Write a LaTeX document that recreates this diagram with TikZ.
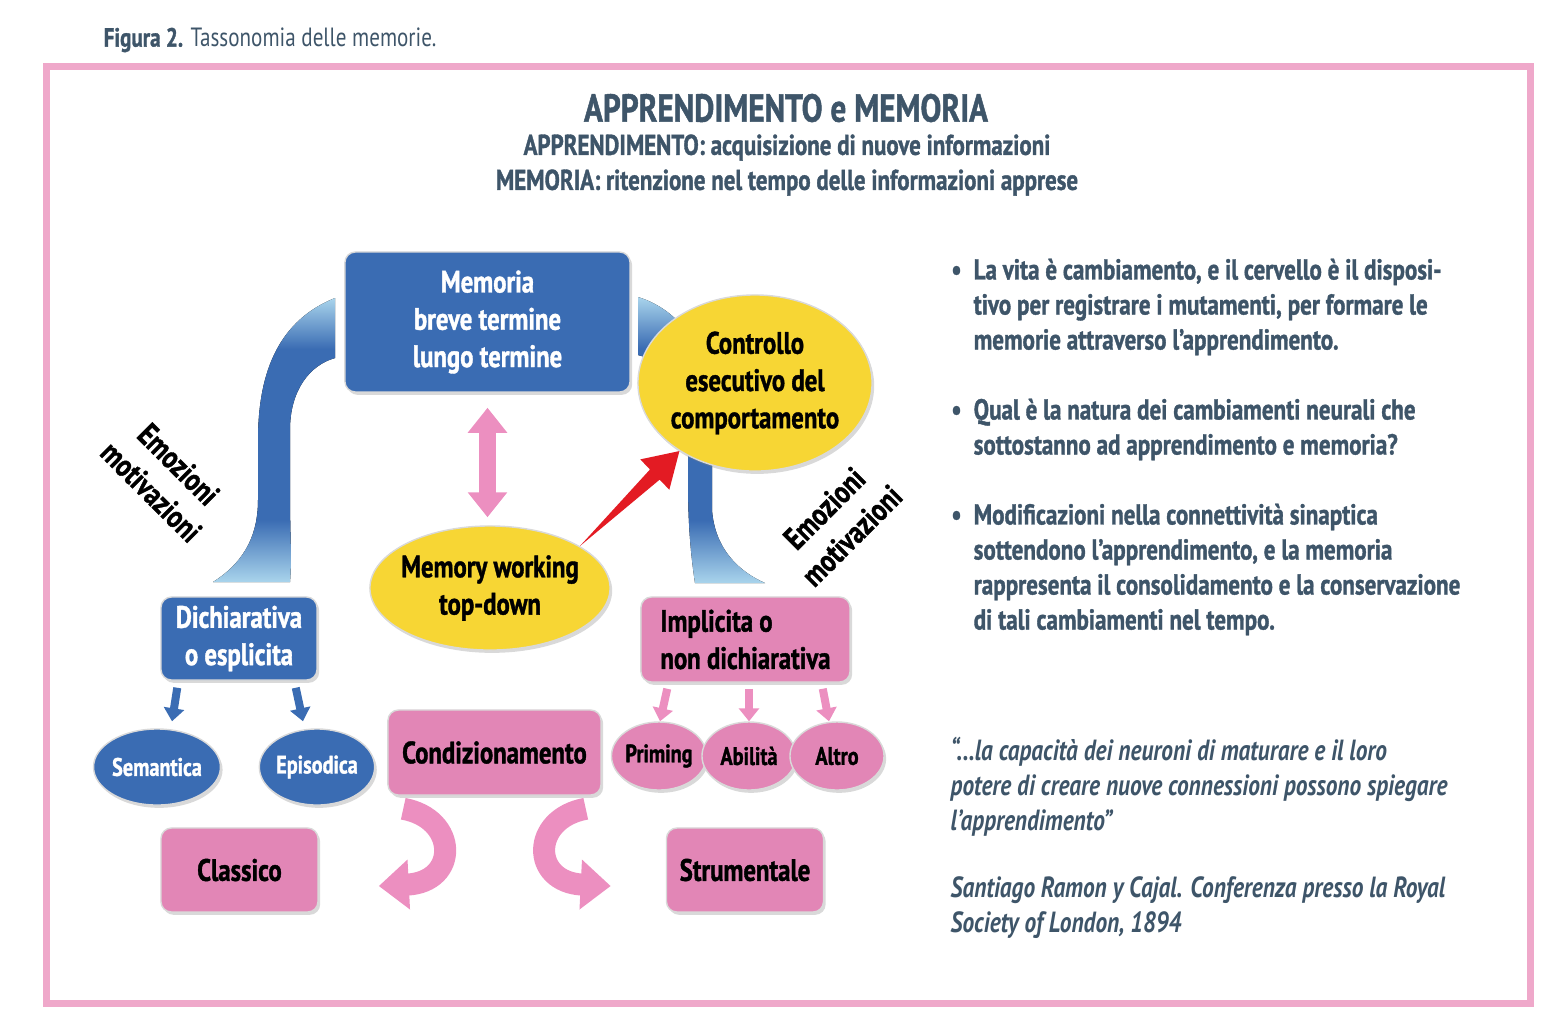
\documentclass[tikz,border=0pt]{standalone}
\usepackage{fontspec}
\setmainfont{PT Sans}[FakeStretch=0.8, BoldFeatures={FakeBold=1.2}]
\usetikzlibrary{shapes.geometric,arrows.meta,shadows,calc}

\definecolor{slate}{RGB}{62,85,105}
\definecolor{framepink}{RGB}{239,168,202}
\definecolor{memblue}{RGB}{58,108,179}
\definecolor{lightblue}{RGB}{169,212,236}
\definecolor{mempink}{RGB}{226,134,182}
\definecolor{arrowpink}{RGB}{236,143,192}
\definecolor{memyellow}{RGB}{247,214,52}
\definecolor{memred}{RGB}{227,27,35}

\pgfdeclareverticalshading{bandshade}{100bp}{color(0bp)=(lightblue); color(25bp)=(lightblue);
  color(36bp)=(memblue); color(66bp)=(memblue); color(75bp)=(lightblue); color(100bp)=(lightblue)}

\tikzset{
  boxblue/.style={rectangle, rounded corners=3pt, draw=white!70!gray, line width=0.4pt,
    fill=memblue, text=white, align=center, inner sep=0pt,
    font=\bfseries\fontsize{8.8pt}{10.6pt}\selectfont,
    drop shadow={opacity=0.3, shadow xshift=0.6pt, shadow yshift=-0.8pt}},
  boxpink/.style={boxblue, fill=mempink, text=black},
  ovalblue/.style={ellipse, draw=white!70!gray, line width=0.4pt, fill=memblue, text=white,
    inner sep=0pt, font=\bfseries\fontsize{7.2pt}{9pt}\selectfont,
    drop shadow={opacity=0.3, shadow xshift=0.6pt, shadow yshift=-0.8pt}},
  ovalpink/.style={ovalblue, fill=mempink, text=black},
  ovalyellow/.style={ellipse, draw=white!70!gray, line width=0.4pt, fill=memyellow, text=black,
    align=center, inner sep=-4pt, font=\bfseries\fontsize{8.8pt}{10.6pt}\selectfont,
    drop shadow={opacity=0.3, shadow xshift=0.6pt, shadow yshift=-0.8pt}},
  band/.style={shading=bandshade},
  emolabel/.style={align=center, inner sep=0pt, font=\bfseries\fontsize{9pt}{11pt}\selectfont},
  para/.style={anchor=north west, align=left, inner sep=0pt, text=slate,
    font=\bfseries\fontsize{8.2pt}{0.35cm}\selectfont},
  quote/.style={para, font=\bfseries\itshape\fontsize{8.3pt}{0.35cm}\selectfont},
  dblpink/.style={draw=arrowpink, line width=0.17cm,
    {Triangle[width=0.38cm,length=0.25cm]}-{Triangle[width=0.38cm,length=0.25cm]}},
  smallblue/.style={draw=memblue, line width=0.08cm, -{Triangle[width=0.2cm,length=0.13cm]}},
  smallpink/.style={draw=arrowpink, line width=0.08cm, -{Triangle[width=0.2cm,length=0.13cm]}},
  hookpink/.style={draw=arrowpink, line width=0.22cm, -{Triangle[width=0.48cm,length=0.3cm]}}
}

\begin{document}
\begin{tikzpicture}[x=0.01cm, y=-0.01cm]
\useasboundingbox (0,0) rectangle (1563,1032);
\draw[draw=framepink, line width=0.07cm] (46.5,66.5) rectangle (1530,1003);
\node[anchor=west, inner sep=0pt, text=slate, font=\fontsize{7.5pt}{9pt}\selectfont] (fig) at (103,40)
  {\textbf{Figura 2.} Tassonomia delle memorie.};

\node[text=slate, font=\bfseries\fontsize{11.1pt}{13pt}\selectfont] (title) at (786,108) {APPRENDIMENTO e MEMORIA};
\node[text=slate, align=center, font=\bfseries\fontsize{8.15pt}{0.35cm}\selectfont] (sub) at (787,165)
  {APPRENDIMENTO: acquisizione di nuove informazioni\\MEMORIA: ritenzione nel tempo delle informazioni apprese};

% bande blu
\fill[band] (335,298) .. controls (280,320) and (258,370) .. (258,440) -- (258,500)
  .. controls (258,540) and (240,565) .. (213,582) -- (290,582)
  .. controls (292,560) and (290,530) .. (290,500) -- (290,430)
  .. controls (290,390) and (310,365) .. (335,358) -- cycle;
\fill[band] (638,297) .. controls (680,310) and (712,350) .. (712,420) -- (712,510)
  .. controls (715,550) and (740,572) .. (765,583) -- (695,583)
  .. controls (690,550) and (688,520) .. (688,480) -- (688,420)
  .. controls (688,385) and (665,362) .. (638,355) -- cycle;

\node[boxblue, minimum width=2.85cm, minimum height=1.40cm] (mem) at (487.5,322) {Memoria\\breve termine\\lungo termine};
\node[ovalyellow, minimum width=2.34cm, minimum height=1.76cm] (ctrl) at (755,383) {Controllo\\esecutivo del\\comportamento};
\node[ovalyellow, minimum width=2.40cm, minimum height=1.24cm] (mw) at (490,588) {Memory working\\top-down};

\node[boxblue, minimum width=1.56cm, minimum height=0.83cm] (dich) at (239,638.5) {Dichiarativa\\o esplicita};
\node[ovalblue, minimum width=1.10cm, minimum height=0.76cm] (sem) at (157,767) {Semantica};
\node[ovalblue, minimum width=1.10cm, minimum height=0.76cm] (epi) at (317,767) {Episodica};

\node[boxpink, minimum width=2.13cm, minimum height=0.85cm] (cond) at (494.5,752.5) {Condizionamento};
\node[boxpink, align=left, minimum width=2.09cm, minimum height=0.85cm] (impl) at (745.5,639.5) {Implicita o\\non dichiarativa};
\node[ovalpink, minimum width=0.94cm, minimum height=0.68cm] (prim) at (659,756) {Priming};
\node[ovalpink, minimum width=0.94cm, minimum height=0.68cm] (abil) at (749,756) {Abilità};
\node[ovalpink, minimum width=0.94cm, minimum height=0.68cm] (altro) at (837,756) {Altro};
\node[boxpink, minimum width=1.57cm, minimum height=0.84cm] (class) at (239.5,870) {Classico};
\node[boxpink, minimum width=1.57cm, minimum height=0.84cm] (strum) at (745,870) {Strumentale};

\node[emolabel, rotate=-45] (emo1) at (165,478) {Emozioni\\motivazioni};
\node[emolabel, rotate=45] (emo2) at (838,522) {Emozioni\\motivazioni};

\draw[dblpink, shorten <=0.15cm, shorten >=0.08cm] (mem.south) -- (mem.south |- mw.north);
% freccia rossa rastremata
\coordinate (hb) at ($(ctrl.222)!0.34cm!(mw.25)$);
\fill[memred] (mw.25) -- ($(hb)!0.07cm!90:(ctrl.222)$) -- ($(hb)!0.21cm!90:(ctrl.222)$) -- (ctrl.222)
  -- ($(hb)!0.21cm!-90:(ctrl.222)$) -- ($(hb)!0.07cm!-90:(ctrl.222)$) -- cycle;
\draw[smallblue] ([xshift=0.17cm,yshift=-0.07cm]dich.south west) -- ([xshift=0.15cm,yshift=0.07cm]sem.north);
\draw[smallblue] ([xshift=-0.22cm,yshift=-0.07cm]dich.south east) -- ([xshift=-0.14cm,yshift=0.07cm]epi.north);
\draw[smallpink] ([xshift=0.27cm,yshift=-0.06cm]impl.south west) -- ([xshift=0.01cm]prim.north);
\draw[smallpink] ([yshift=-0.06cm]impl.south -| abil.north) -- (abil.north);
\draw[smallpink] ([xshift=-0.28cm,yshift=-0.06cm]impl.south east) -- ([xshift=-0.08cm]altro.north);
\draw[hookpink] ([xshift=0.16cm,yshift=-0.13cm]cond.south west) .. controls +(55,10) and +(80,-4) .. ([xshift=0.6cm,yshift=-0.16cm]class.east);
\draw[hookpink] ([xshift=-0.16cm,yshift=-0.13cm]cond.south east) .. controls +(-55,10) and +(-80,-4) .. ([xshift=-0.55cm,yshift=-0.16cm]strum.west);

\node[para] (p1) at (973,258) {\llap{\textbullet\hspace{0.12cm}}La vita è cambiamento, e il cervello è il disposi-\\tivo per registrare i mutamenti, per formare le\\memorie attraverso l’apprendimento.};
\node[para] (p2) at (973,398) {\llap{\textbullet\hspace{0.12cm}}Qual è la natura dei cambiamenti neurali che\\sottostanno ad apprendimento e memoria?};
\node[para] (p3) at (973,503) {\llap{\textbullet\hspace{0.12cm}}Modificazioni nella connettività sinaptica\\sottendono l’apprendimento, e la memoria\\rappresenta il consolidamento e la conservazione\\di tali cambiamenti nel tempo.};
\node[quote] (q1) at (950,736) {“...la capacità dei neuroni di maturare e il loro\\potere di creare nuove connessioni possono spiegare\\l’apprendimento”};
\node[quote] (q2) at (950,876) {Santiago Ramon y Cajal. Conferenza presso la Royal\\Society of London, 1894};
\end{tikzpicture}
\end{document}
